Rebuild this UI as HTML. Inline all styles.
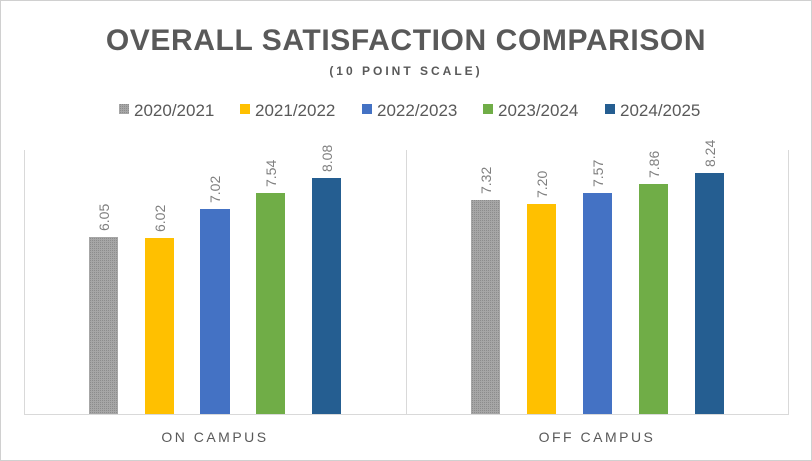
<!DOCTYPE html>
<html><head><style>
html,body{margin:0;padding:0;background:#fff}
svg{display:block}
text{font-family:"Liberation Sans",sans-serif}
</style></head><body>
<svg width="812" height="461" viewBox="0 0 812 461">
<defs>
<pattern id="dots" width="2" height="2" patternUnits="userSpaceOnUse">
<rect width="2" height="2" fill="#a6a6a6"/><rect width="1" height="1" fill="#8c8c8c"/>
</pattern>
</defs>
<rect x="0.5" y="0.5" width="811" height="460" fill="#fff" stroke="#d0d0d0"/>
<text x="406" y="50" text-anchor="middle" font-size="30" font-weight="bold" fill="#595959" letter-spacing="0.6">OVERALL SATISFACTION COMPARISON</text>
<text x="406" y="75" text-anchor="middle" font-size="12" font-weight="bold" fill="#595959" letter-spacing="3">(10 POINT SCALE)</text>
<g font-size="17" fill="#595959">
<rect x="119" y="104" width="10" height="10" fill="url(#dots)"/><text x="134" y="116">2020/2021</text>
<rect x="240" y="104" width="10" height="10" fill="#ffc000"/><text x="255" y="116">2021/2022</text>
<rect x="362" y="104" width="10" height="10" fill="#4472c4"/><text x="377" y="116">2022/2023</text>
<rect x="483" y="104" width="10" height="10" fill="#70ad47"/><text x="498" y="116">2023/2024</text>
<rect x="605" y="104" width="10" height="10" fill="#255e91"/><text x="620" y="116">2024/2025</text>
</g>
<g stroke="#d9d9d9" stroke-width="1">
<line x1="24.5" y1="150" x2="24.5" y2="415"/>
<line x1="406.5" y1="150" x2="406.5" y2="415"/>
<line x1="788.5" y1="150" x2="788.5" y2="415"/>
<line x1="24" y1="414.5" x2="789" y2="414.5"/>
</g>
<g>
<rect x="89" y="237" width="29" height="177" fill="url(#dots)"/>
<rect x="145" y="238" width="29" height="176" fill="#ffc000"/>
<rect x="200" y="209" width="30" height="205" fill="#4472c4"/>
<rect x="256" y="193" width="29" height="221" fill="#70ad47"/>
<rect x="312" y="178" width="29" height="236" fill="#255e91"/>
<rect x="471" y="200" width="29" height="214" fill="url(#dots)"/>
<rect x="527" y="204" width="29" height="210" fill="#ffc000"/>
<rect x="583" y="193" width="29" height="221" fill="#4472c4"/>
<rect x="639" y="184" width="29" height="230" fill="#70ad47"/>
<rect x="695" y="173" width="29" height="241" fill="#255e91"/>
</g>
<g font-size="14" fill="#7f7f7f">
<text transform="translate(109,231) rotate(-90)">6.05</text>
<text transform="translate(165,232) rotate(-90)">6.02</text>
<text transform="translate(220,203) rotate(-90)">7.02</text>
<text transform="translate(276,187) rotate(-90)">7.54</text>
<text transform="translate(332,172) rotate(-90)">8.08</text>
<text transform="translate(491,194) rotate(-90)">7.32</text>
<text transform="translate(547,198) rotate(-90)">7.20</text>
<text transform="translate(603,187) rotate(-90)">7.57</text>
<text transform="translate(659,178) rotate(-90)">7.86</text>
<text transform="translate(715,167) rotate(-90)">8.24</text>
</g>
<g font-size="14" fill="#595959" letter-spacing="2.5" text-anchor="middle">
<text x="215" y="442">ON CAMPUS</text>
<text x="597" y="442">OFF CAMPUS</text>
</g>
</svg>
</body></html>
